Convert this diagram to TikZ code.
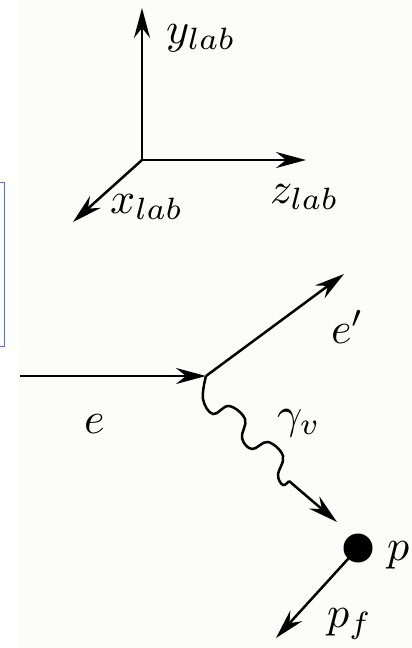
\documentclass[tikz,border=0pt]{standalone}
\usetikzlibrary{arrows.meta}
\definecolor{boxblue}{RGB}{79,120,190}
\definecolor{bgtint}{RGB}{252,253,251}
\newcommand{\biglbl}[1]{\scalebox{4.4}{$#1$}}
\begin{document}
\begin{tikzpicture}[x=1pt,y=-1pt,
  line/.style={line width=2.5pt},
  arr/.style={line width=2.5pt,-{Stealth[length=30pt,width=16pt,inset=10pt]}},
  lbl/.style={inner sep=0pt,anchor=base west},
  boxline/.style={draw=boxblue,line width=1pt}]
\useasboundingbox (0,0) rectangle (412,648);
\fill[bgtint] (18,0) rectangle (412,648);
\draw[boxline] (0,182) -- (4,182) -- (4,346) -- (0,346);
% axes
\coordinate (O) at (142,160);
\coordinate (Y) at (142,8);
\coordinate (Z) at (306,160);
\coordinate (X) at (73,222);
\draw[arr] (O) -- (Y);
\draw[arr] (O) -- (Z);
\draw[arr] (O) -- (X);
\node[lbl] (ylab) at (166,43) {\biglbl{y_{lab}}};
\node[lbl] (zlab) at (270,203) {\biglbl{z_{lab}}};
\node[lbl] (xlab) at (110,213) {\biglbl{x_{lab}}};
% scattering
\coordinate (in) at (20,376);
\coordinate (V) at (206,376);
\coordinate (eout) at (344,274);
\coordinate (pa) at (337,522);
\node[circle,fill=black,minimum size=29pt,inner sep=0pt] (P) at (358,548) {};
\coordinate (pf) at (276,638);
\draw[arr] (in) -- (V);
\draw[arr] (V) -- (eout);
\draw[line] plot[smooth,tension=0.65] coordinates {(206,376) (203,399) (213,414) (229,406) (245,419) (242,438) (252,449) (268,442) (283,456) (278,475) (283,485) (289,481)};
\draw[arr] (289,481) -- (pa);
\draw[arr] (P.center) -- (pf);
\node[lbl] (e) at (84,433) {\biglbl{e}};
\node[lbl] (ep) at (331,343) {\biglbl{e'}};
\node[lbl] (gv) at (277,428) {\biglbl{\gamma_v}};
\node[lbl] (p) at (387,560) {\biglbl{p}};
\node[lbl] (pfl) at (327,627) {\biglbl{p_f}};
\end{tikzpicture}
\end{document}
